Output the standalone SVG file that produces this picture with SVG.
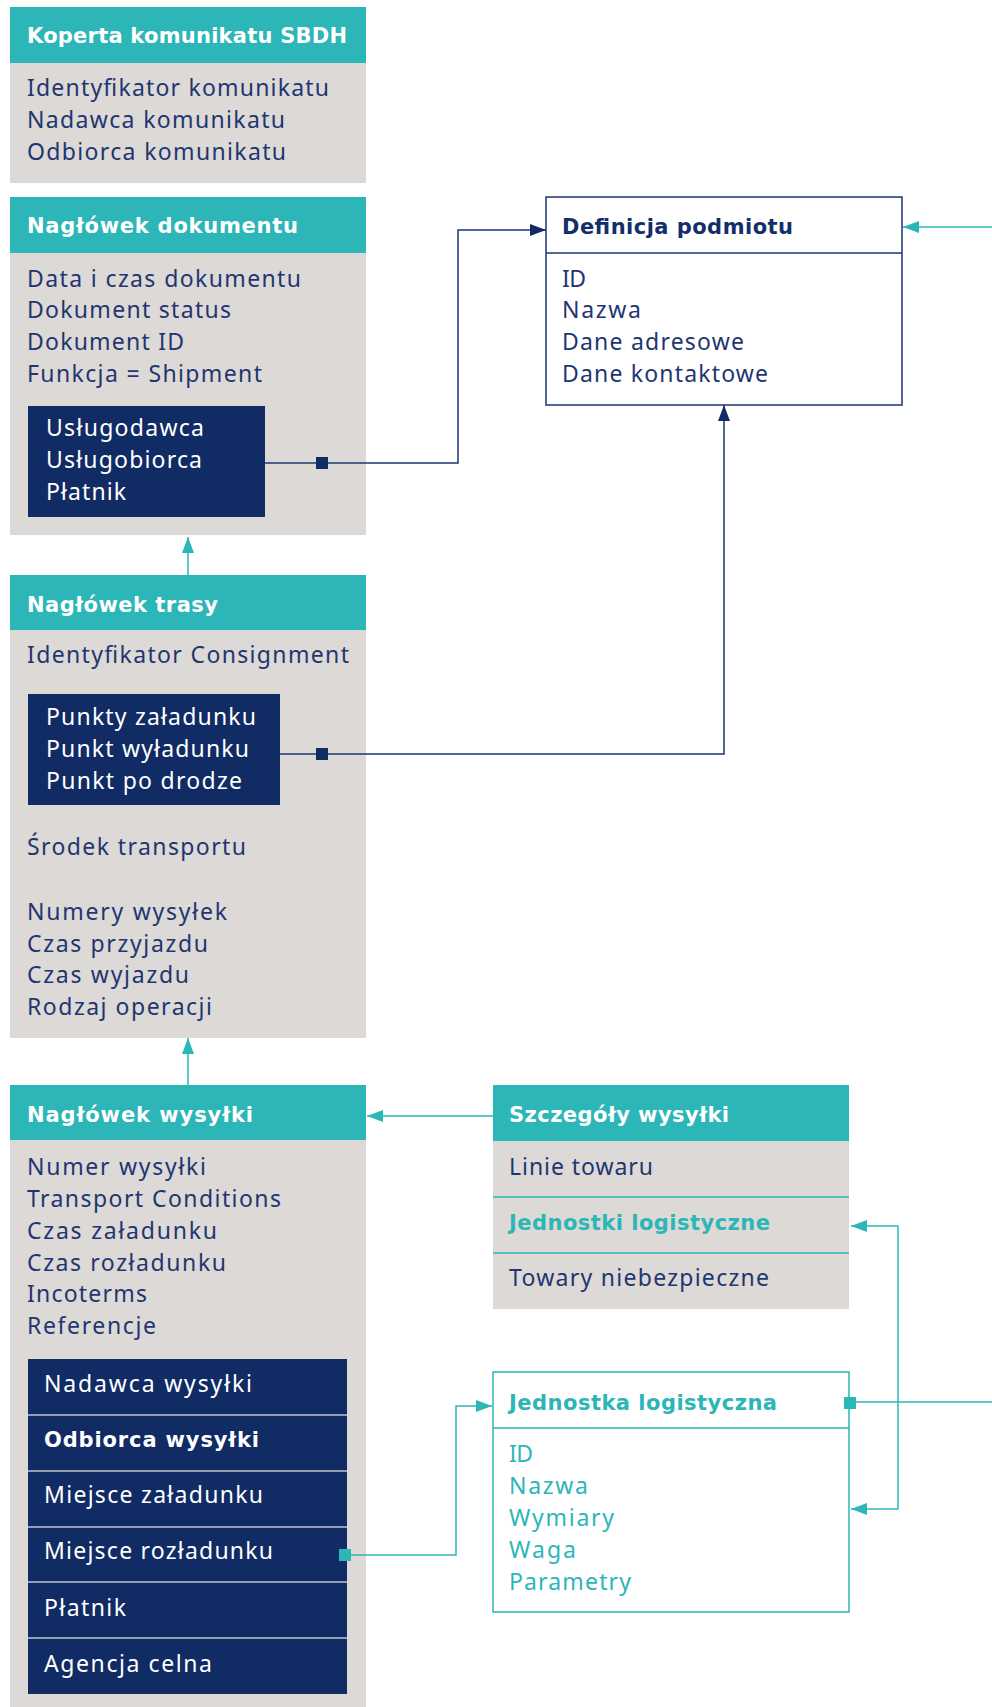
<svg xmlns="http://www.w3.org/2000/svg" width="992" height="1707" viewBox="0 0 992 1707">
<defs>
<style>
.hd{fill:#2cb6b7}
.bd{fill:#dcd9d7}
.nv{fill:#112b64}
.t{font-family:"Noto Sans","Open Sans",sans-serif;font-size:23px;fill:#1f3670}
.b{font-family:"DejaVu Sans","Noto Sans",sans-serif;font-size:21px;font-weight:700}
.w{fill:#ffffff}
.tl{fill:#2cb6b7}
.dn{fill:#142e6b}
.cn{fill:none;stroke:#1d3672;stroke-width:1.5}
.ct{fill:none;stroke:#2cb6b7;stroke-width:1.5}
.sep{stroke:#c3c6cf;stroke-width:1.5}
</style>
<marker id="an" markerUnits="userSpaceOnUse" markerWidth="16" markerHeight="12" refX="16" refY="6" orient="auto-start-reverse"><path d="M0,0 L16,6 L0,12 z" fill="#112b64"/></marker>
<marker id="at" markerUnits="userSpaceOnUse" markerWidth="16" markerHeight="12" refX="16" refY="6" orient="auto-start-reverse"><path d="M0,0 L16,6 L0,12 z" fill="#2cb6b7"/></marker>
</defs>
<rect width="992" height="1707" fill="#ffffff"/>

<g id="koperta">
<rect class="hd" x="10" y="7" width="356" height="56"/>
<rect class="bd" x="10" y="63" width="356" height="120"/>
<text class="b w" x="27" y="43" textLength="320" lengthAdjust="spacing">Koperta komunikatu SBDH</text>
<text class="t" x="27" y="96" textLength="302" lengthAdjust="spacing">Identyfikator komunikatu</text>
<text class="t" x="27" y="128" textLength="258" lengthAdjust="spacing">Nadawca komunikatu</text>
<text class="t" x="27" y="160" textLength="259" lengthAdjust="spacing">Odbiorca komunikatu</text>
</g>

<g id="naglowek-dokumentu">
<rect class="hd" x="10" y="197" width="356" height="56"/>
<rect class="bd" x="10" y="253" width="356" height="282"/>
<text class="b w" x="27" y="233" textLength="271" lengthAdjust="spacing">Nagłówek dokumentu</text>
<text class="t" x="27" y="287" textLength="274" lengthAdjust="spacing">Data i czas dokumentu</text>
<text class="t" x="27" y="318" textLength="204" lengthAdjust="spacing">Dokument status</text>
<text class="t" x="27" y="350" textLength="157" lengthAdjust="spacing">Dokument ID</text>
<text class="t" x="27" y="382" textLength="235" lengthAdjust="spacing">Funkcja = Shipment</text>
<rect class="nv" x="28" y="406" width="237" height="111"/>
<text class="t w" x="46" y="436" textLength="158" lengthAdjust="spacing">Usługodawca</text>
<text class="t w" x="46" y="468" textLength="156" lengthAdjust="spacing">Usługobiorca</text>
<text class="t w" x="46" y="500" textLength="80" lengthAdjust="spacing">Płatnik</text>
</g>

<g id="naglowek-trasy">
<rect class="hd" x="10" y="575" width="356" height="55"/>
<rect class="bd" x="10" y="630" width="356" height="408"/>
<text class="b w" x="27" y="612" textLength="191" lengthAdjust="spacing">Nagłówek trasy</text>
<text class="t" x="27" y="663" textLength="322" lengthAdjust="spacing">Identyfikator Consignment</text>
<rect class="nv" x="28" y="694" width="252" height="111"/>
<text class="t w" x="46" y="725" textLength="210" lengthAdjust="spacing">Punkty załadunku</text>
<text class="t w" x="46" y="757" textLength="203" lengthAdjust="spacing">Punkt wyładunku</text>
<text class="t w" x="46" y="789" textLength="196" lengthAdjust="spacing">Punkt po drodze</text>
<text class="t" x="27" y="855" textLength="219" lengthAdjust="spacing">Środek transportu</text>
<text class="t" x="27" y="920" textLength="200" lengthAdjust="spacing">Numery wysyłek</text>
<text class="t" x="27" y="952" textLength="181" lengthAdjust="spacing">Czas przyjazdu</text>
<text class="t" x="27" y="983" textLength="162" lengthAdjust="spacing">Czas wyjazdu</text>
<text class="t" x="27" y="1015" textLength="185" lengthAdjust="spacing">Rodzaj operacji</text>
</g>

<g id="naglowek-wysylki">
<rect class="hd" x="10" y="1085" width="356" height="55"/>
<rect class="bd" x="10" y="1140" width="356" height="567"/>
<text class="b w" x="27" y="1122" textLength="226" lengthAdjust="spacing">Nagłówek wysyłki</text>
<text class="t" x="27" y="1175" textLength="179" lengthAdjust="spacing">Numer wysyłki</text>
<text class="t" x="27" y="1207" textLength="254" lengthAdjust="spacing">Transport Conditions</text>
<text class="t" x="27" y="1239" textLength="190" lengthAdjust="spacing">Czas załadunku</text>
<text class="t" x="27" y="1271" textLength="199" lengthAdjust="spacing">Czas rozładunku</text>
<text class="t" x="27" y="1302" textLength="120" lengthAdjust="spacing">Incoterms</text>
<text class="t" x="27" y="1334" textLength="129" lengthAdjust="spacing">Referencje</text>
<rect class="nv" x="28" y="1359" width="319" height="335"/>
<line class="sep" x1="28" y1="1415" x2="347" y2="1415"/>
<line class="sep" x1="28" y1="1471" x2="347" y2="1471"/>
<line class="sep" x1="28" y1="1527" x2="347" y2="1527"/>
<line class="sep" x1="28" y1="1582" x2="347" y2="1582"/>
<line class="sep" x1="28" y1="1638" x2="347" y2="1638"/>
<text class="t w" x="44" y="1392" textLength="208" lengthAdjust="spacing">Nadawca wysyłki</text>
<text class="b w" x="44" y="1447" textLength="215" lengthAdjust="spacing">Odbiorca wysyłki</text>
<text class="t w" x="44" y="1503" textLength="219" lengthAdjust="spacing">Miejsce załadunku</text>
<text class="t w" x="44" y="1559" textLength="229" lengthAdjust="spacing">Miejsce rozładunku</text>
<text class="t w" x="44" y="1616" textLength="82" lengthAdjust="spacing">Płatnik</text>
<text class="t w" x="44" y="1672" textLength="168" lengthAdjust="spacing">Agencja celna</text>
</g>

<g id="definicja-podmiotu">
<rect x="546" y="197" width="356" height="208" fill="#ffffff" stroke="#1d3672" stroke-width="1.5"/>
<line x1="546" y1="253" x2="902" y2="253" stroke="#1d3672" stroke-width="1.5"/>
<text class="b dn" x="562" y="234" textLength="231" lengthAdjust="spacing">Definicja podmiotu</text>
<text class="t" x="562" y="287" textLength="24" lengthAdjust="spacing">ID</text>
<text class="t" x="562" y="318" textLength="79" lengthAdjust="spacing">Nazwa</text>
<text class="t" x="562" y="350" textLength="182" lengthAdjust="spacing">Dane adresowe</text>
<text class="t" x="562" y="382" textLength="206" lengthAdjust="spacing">Dane kontaktowe</text>
</g>

<g id="szczegoly-wysylki">
<rect class="hd" x="493" y="1085" width="356" height="56"/>
<rect class="bd" x="493" y="1141" width="356" height="168"/>
<line x1="493" y1="1197" x2="849" y2="1197" stroke="#2cb6b7" stroke-width="1.5"/>
<line x1="493" y1="1253" x2="849" y2="1253" stroke="#2cb6b7" stroke-width="1.5"/>
<text class="b w" x="509" y="1122" textLength="220" lengthAdjust="spacing">Szczegóły wysyłki</text>
<text class="t" x="509" y="1175" textLength="144" lengthAdjust="spacing">Linie towaru</text>
<text class="b tl" x="509" y="1230" textLength="261" lengthAdjust="spacing">Jednostki logistyczne</text>
<text class="t" x="509" y="1286" textLength="260" lengthAdjust="spacing">Towary niebezpieczne</text>
</g>

<g id="jednostka-logistyczna">
<rect x="493" y="1372" width="356" height="240" fill="#ffffff" stroke="#2cb6b7" stroke-width="1.5"/>
<line x1="493" y1="1428" x2="849" y2="1428" stroke="#2cb6b7" stroke-width="1.5"/>
<text class="b tl" x="509" y="1410" textLength="268" lengthAdjust="spacing">Jednostka logistyczna</text>
<text class="t tl" x="509" y="1462" textLength="24" lengthAdjust="spacing">ID</text>
<text class="t tl" x="509" y="1494" textLength="79" lengthAdjust="spacing">Nazwa</text>
<text class="t tl" x="509" y="1526" textLength="105" lengthAdjust="spacing">Wymiary</text>
<text class="t tl" x="509" y="1558" textLength="67" lengthAdjust="spacing">Waga</text>
<text class="t tl" x="509" y="1590" textLength="122" lengthAdjust="spacing">Parametry</text>
</g>

<g id="connectors">
<path class="cn" d="M265,463 H458 V230 H546" marker-end="url(#an)"/>
<rect x="316" y="457" width="12" height="12" fill="#112b64"/>
<path class="cn" d="M280,754 H724 V405" marker-end="url(#an)"/>
<rect x="316" y="748" width="12" height="12" fill="#112b64"/>
<path class="ct" d="M992,227 H903" marker-end="url(#at)"/>
<path class="ct" d="M188,575 V537" marker-end="url(#at)"/>
<path class="ct" d="M188,1085 V1038" marker-end="url(#at)"/>
<path class="ct" d="M493,1116 H367" marker-end="url(#at)"/>
<path class="ct" d="M351,1555 H456 V1406 H492" marker-end="url(#at)"/>
<rect x="339" y="1549" width="12" height="12" fill="#2cb6b7"/>
<path class="ct" d="M856,1402 H992"/>
<rect x="844" y="1397" width="12" height="12" fill="#2cb6b7"/>
<path class="ct" d="M851,1226 H898 V1509 H851" marker-start="url(#at)" marker-end="url(#at)"/>
</g>
</svg>
